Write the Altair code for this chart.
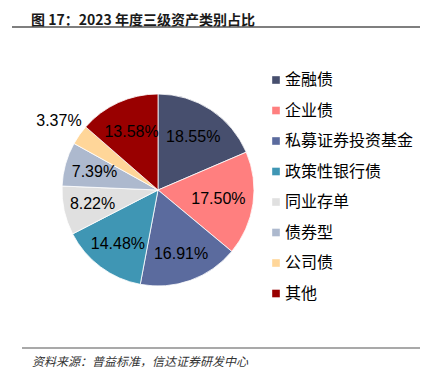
import altair as alt
import pandas as pd
import math

categories = ["金融债", "企业债", "私募证券投资基金", "政策性银行债", "同业存单", "债券型", "公司债", "其他"]
values = [18.55, 17.50, 16.91, 14.48, 8.22, 7.39, 3.37, 13.58]
colors = ["#474F6E", "#FF7F7F", "#5B6B9E", "#3F96B4", "#E0E0E0", "#ADB9CE", "#FFD699", "#990000"]
label_radius = [64, 61, 68, 67, 67, 66, 121, 64]

title_text = "图 17：2023 年度三级资产类别占比"
source_text = "资料来源：普益标准，信达证券研发中心"

df = pd.DataFrame({
    "cat": categories,
    "value": values,
    "order": list(range(len(categories))),
    "label": [f"{v:.2f}%" for v in values],
    "r": label_radius,
})
df["mid"] = df["value"].cumsum() - df["value"] / 2

CX, CY, R = 150, 182, 96

base = alt.Chart(df)

arc = base.mark_arc(outerRadius=R, stroke="white", strokeWidth=0.8).encode(
    theta=alt.Theta("value:Q", stack=True),
    order=alt.Order("order:Q"),
    color=alt.Color(
        "cat:N",
        sort=categories,
        scale=alt.Scale(domain=categories, range=colors),
        legend=alt.Legend(
            title=None,
            orient="none",
            legendX=260,
            legendY=64,
            symbolType="square",
            symbolSize=58,
            symbolStrokeWidth=0,
            labelFont="Noto Sans CJK SC",
            labelFontSize=16,
            labelColor="#000000",
            rowPadding=14.5,
            labelOffset=1,
        ),
    ),
    x=alt.value(CX),
    y=alt.value(CY),
)

labels = base.mark_text(font="Liberation Sans", fontSize=16, color="#000000").encode(
    theta=alt.Theta("mid:Q", stack=None, scale=alt.Scale(domain=[0, 100], range=[0, 2 * math.pi])),
    radius=alt.Radius("r:Q", scale=None),
    text="label:N",
    x=alt.value(CX),
    y=alt.value(CY),
)

tdf = pd.DataFrame({"t": [title_text]})
title = alt.Chart(tdf).mark_text(
    font="Noto Sans CJK SC", fontSize=14, fontWeight="bold", align="left", baseline="alphabetic", color="#1a1a1a"
).encode(text="t:N", x=alt.value(23), y=alt.value(16.5))

sdf = pd.DataFrame({"t": [source_text]})
source = alt.Chart(sdf).mark_text(
    font="Noto Sans CJK SC", fontSize=12, fontStyle="italic", align="left", baseline="middle", color="#333333"
).encode(text="t:N", x=alt.value(24), y=alt.value(354))

top_rule = alt.Chart(tdf).mark_rule(color="#555555", strokeWidth=1.5).encode(
    x=alt.value(4), x2=alt.value(420), y=alt.value(19)
)
bottom_rule = alt.Chart(sdf).mark_rule(color="#555555", strokeWidth=1.2).encode(
    x=alt.value(14), x2=alt.value(420), y=alt.value(340)
)

chart = alt.layer(arc, labels, title, source, top_rule, bottom_rule).properties(
    width=412, height=360, autosize=alt.AutoSizeParams(type="none"), padding=0
).configure_view(stroke=None)

chart.save("out.html", embed_options={"renderer": "svg", "actions": False})
